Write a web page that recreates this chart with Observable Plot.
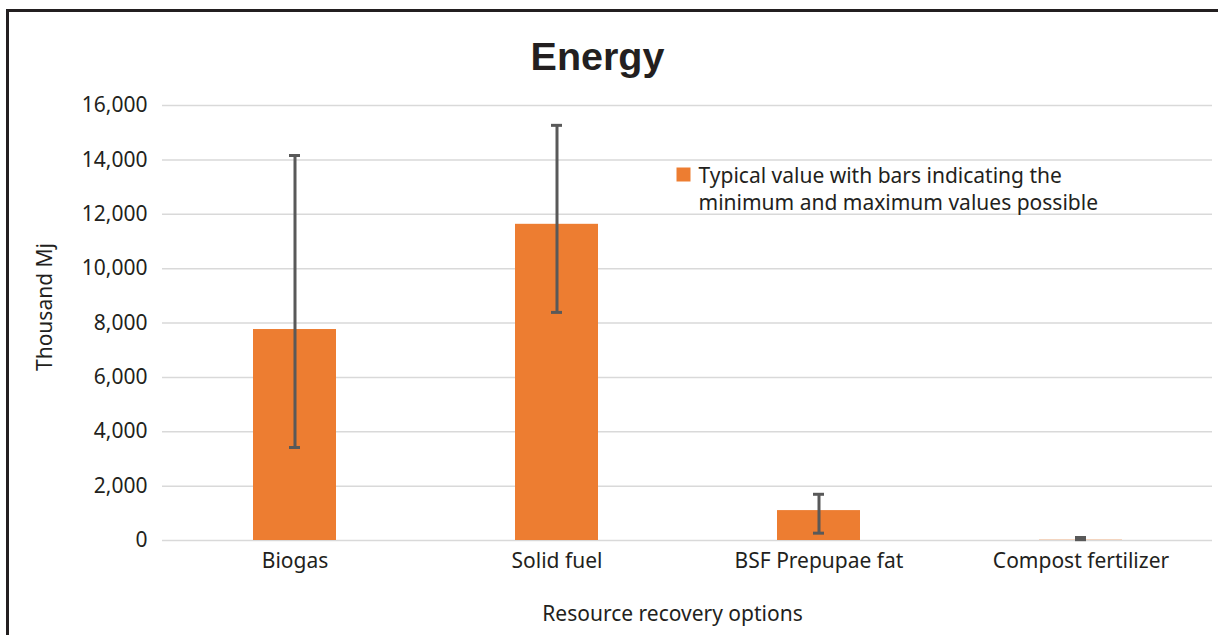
<!DOCTYPE html>
<html>
<head>
<meta charset="utf-8">
<script src="https://cdn.jsdelivr.net/npm/d3@7"></script>
<script src="https://cdn.jsdelivr.net/npm/@observablehq/plot@0.6"></script>
<style>
  html, body { margin: 0; padding: 0; background: #fff; overflow: hidden; }
  #wrap { position: relative; width: 1218px; height: 635px; }
  #border { position: absolute; left: 6px; top: 9px; width: 1209px; height: 700px;
            border-left: 3px solid #231f20; border-top: 3px solid #231f20; border-right: 1.5px solid #555; }
  #chart { position: absolute; left: 0; top: 0; }
</style>
</head>
<body>
<div id="wrap"><div id="chart"></div><div id="border"></div></div>
<script>
const categories = ["Biogas", "Solid fuel", "BSF Prepupae fat", "Compost fertilizer"];
const typical = [7760, 11630, 1100, 10];
const minimum = [3420, 8390, 270, 30];
const maximum = [14160, 15270, 1700, 110];
const yTicks = [0, 2000, 4000, 6000, 8000, 10000, 12000, 14000, 16000];
const title = "Energy";
const yTitle = "Thousand Mj";
const xTitle = "Resource recovery options";
const legendText = "Typical value with bars indicating the\nminimum and maximum values possible";

const data = categories.map((c, i) => ({category: c, typical: typical[i], min: minimum[i], max: maximum[i]}));
const font = "'Noto Sans', 'Open Sans', sans-serif";

const chart = Plot.plot({
  width: 1218,
  height: 635,
  marginLeft: 162,
  marginRight: 6,
  marginTop: 105,
  marginBottom: 95,
  style: {fontFamily: font, fontSize: "21px", color: "#231f20", background: "transparent"},
  x: {domain: categories, paddingInner: 0.684, paddingOuter: 0.342, label: null},
  y: {domain: [0, 16000], label: null},
  marks: [
    Plot.gridY(yTicks, {stroke: "#d9d9d9", strokeOpacity: 1, strokeWidth: 1.5}),
    Plot.axisY(yTicks, {tickSize: 0, tickPadding: 15, tickFormat: d3.format(","), fontSize: 21, label: null}),
    Plot.axisX({tickSize: 0, tickPadding: 13, fontSize: 21, label: null}),
    Plot.barY(data, {x: "category", y: "typical", fill: "#ed7d31"}),
    Plot.ruleX(data, {x: "category", y1: "min", y2: "max", stroke: "#595959", strokeWidth: 3}),
    Plot.tickY(data, {x: "category", y: "min", stroke: "#595959", strokeWidth: 3, insetLeft: 36, insetRight: 36}),
    Plot.tickY(data, {x: "category", y: "max", stroke: "#595959", strokeWidth: 3, insetLeft: 36, insetRight: 36}),
    Plot.text([title], {frameAnchor: "top", dx: -90, dy: -48, lineAnchor: "middle",
      fontFamily: "'Liberation Sans', Arial, sans-serif", fontWeight: "bold", fontSize: 39.5, fill: "#231f20"}),
    Plot.text([yTitle], {frameAnchor: "left", textAnchor: "middle", lineAnchor: "middle", rotate: -90,
      dx: -117, dy: -16, fontSize: 21, fill: "#231f20"}),
    Plot.text([xTitle], {frameAnchor: "bottom", dx: -15, dy: 80, fontSize: 21, fill: "#231f20"}),
    Plot.dot([0], {frameAnchor: "top-left", dx: 521, dy: 69, symbol: "square", r: 7.9, fill: "#ed7d31", stroke: null}),
    Plot.text([legendText], {frameAnchor: "top-left", dx: 536, dy: 82, textAnchor: "start", lineAnchor: "middle",
      lineHeight: 1.286, fontSize: 21, fill: "#231f20"})
  ]
});
document.getElementById("chart").appendChild(chart);
</script>
</body>
</html>
